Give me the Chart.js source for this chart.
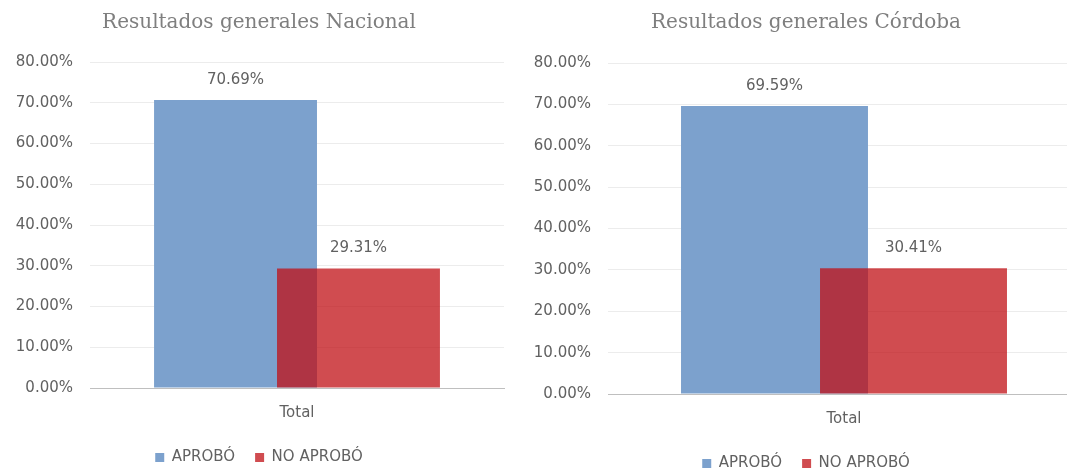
<!DOCTYPE html>
<html>
<head>
<meta charset="utf-8">
<script src="https://cdn.jsdelivr.net/npm/chart.js@4.4.0/dist/chart.umd.min.js"></script>
<style>
  html, body { margin: 0; padding: 0; background: #fff; overflow: hidden; width: 1067px; height: 470px; }
  canvas { position: absolute; top: 0; }
  #nacional { left: 0; }
  #cordoba { left: 528px; }
</style>
</head>
<body>
<canvas id="nacional" width="532" height="470"></canvas>
<canvas id="cordoba" width="563" height="470"></canvas>
<script>
// datos
const categories = ['Total'];
const seriesNames = ['APROBÓ', 'NO APROBÓ'];
const nacionalAprobo = [70.69];
const nacionalNoAprobo = [29.31];
const cordobaAprobo = [69.59];
const cordobaNoAprobo = [30.41];
const yTicks = [0, 10, 20, 30, 40, 50, 60, 70, 80];

const blue = 'rgb(124,161,205)';
const red = 'rgba(192,16,22,0.75)';
const textGray = '#616161';

Chart.defaults.font.family = '"DejaVu Sans", sans-serif';
Chart.defaults.font.size = 15;
Chart.defaults.color = textGray;

// in Excel the second series sits on top of the first one
const redOnTop = {
  id: 'redOnTop',
  beforeDatasetDraw(chart, args) {
    if (args.index === 1) return false;
  },
  afterDatasetsDraw(chart) {
    const meta = chart.getDatasetMeta(1);
    if (!meta.hidden) meta.controller.draw();
  }
};

const valueLabels = {
  id: 'valueLabels',
  afterDatasetsDraw(chart) {
    const ctx = chart.ctx;
    ctx.save();
    ctx.font = '15px "DejaVu Sans"';
    ctx.fillStyle = textGray;
    ctx.textAlign = 'center';
    ctx.textBaseline = 'middle';
    chart.data.datasets.forEach((ds, i) => {
      chart.getDatasetMeta(i).data.forEach((bar, j) => {
        ctx.fillText(ds.data[j].toFixed(2) + '%', bar.x, bar.y - 20);
      });
    });
    ctx.restore();
  }
};

function makeChart(id, title, aprobo, noAprobo, lay) {
  const ctx = document.getElementById(id).getContext('2d');
  return new Chart(ctx, {
    type: 'bar',
    data: {
      labels: categories,
      datasets: [{
        label: seriesNames[0],
        data: aprobo,
        backgroundColor: blue,
        categoryPercentage: lay.catPct,
        barPercentage: lay.barPct
      }, {
        label: seriesNames[1],
        data: noAprobo,
        backgroundColor: red,
        categoryPercentage: lay.catPct,
        barPercentage: lay.barPct
      }]
    },
    options: {
      responsive: false,
      animation: false,
      layout: { padding: { left: lay.padLeft, right: lay.padRight, top: 0, bottom: 0 } },
      plugins: {
        tooltip: { enabled: false },
        title: {
          display: true,
          text: title,
          color: '#7f7f7f',
          font: { family: '"DejaVu Serif", serif', size: 20, weight: 'normal' },
          padding: { top: 11, bottom: lay.titleBottom }
        },
        legend: {
          position: 'bottom',
          maxHeight: lay.legendHeight,
          labels: {
            boxWidth: 9,
            boxHeight: 9,
            padding: 20,
            color: textGray,
            font: { size: 15 }
          }
        }
      },
      scales: {
        x: {
          grid: { display: false, drawTicks: false },
          border: { display: true, color: '#bfbfbf', width: 1 },
          ticks: { padding: 16, color: textGray },
          afterFit(axis) { axis.height = lay.xHeight; }
        },
        y: {
          min: 0,
          max: 80,
          afterBuildTicks(axis) { axis.ticks = yTicks.map(v => ({ value: v })); },
          grid: {
            drawTicks: false,
            color: c => (c.tick && c.tick.value === 0) ? 'rgba(0,0,0,0)' : '#ececec'
          },
          border: { display: false },
          ticks: {
            padding: 17,
            color: textGray,
            callback: v => v.toFixed(2) + '%'
          },
          afterFit(axis) { axis.width = lay.yWidth; }
        }
      }
    },
    plugins: [redOnTop, valueLabels]
  });
}

makeChart('nacional', 'Resultados generales Nacional', nacionalAprobo, nacionalNoAprobo, {
  catPct: 0.594, barPct: 1.325, padLeft: 14, padRight: 28, titleBottom: 27,
  legendHeight: 40, xHeight: 42, yWidth: 76
});

makeChart('cordoba', 'Resultados generales Córdoba', cordobaAprobo, cordobaNoAprobo, {
  catPct: 0.589, barPct: 1.345, padLeft: 4, padRight: 11, titleBottom: 28,
  legendHeight: 34, xHeight: 42, yWidth: 76
});
</script>
</body>
</html>
